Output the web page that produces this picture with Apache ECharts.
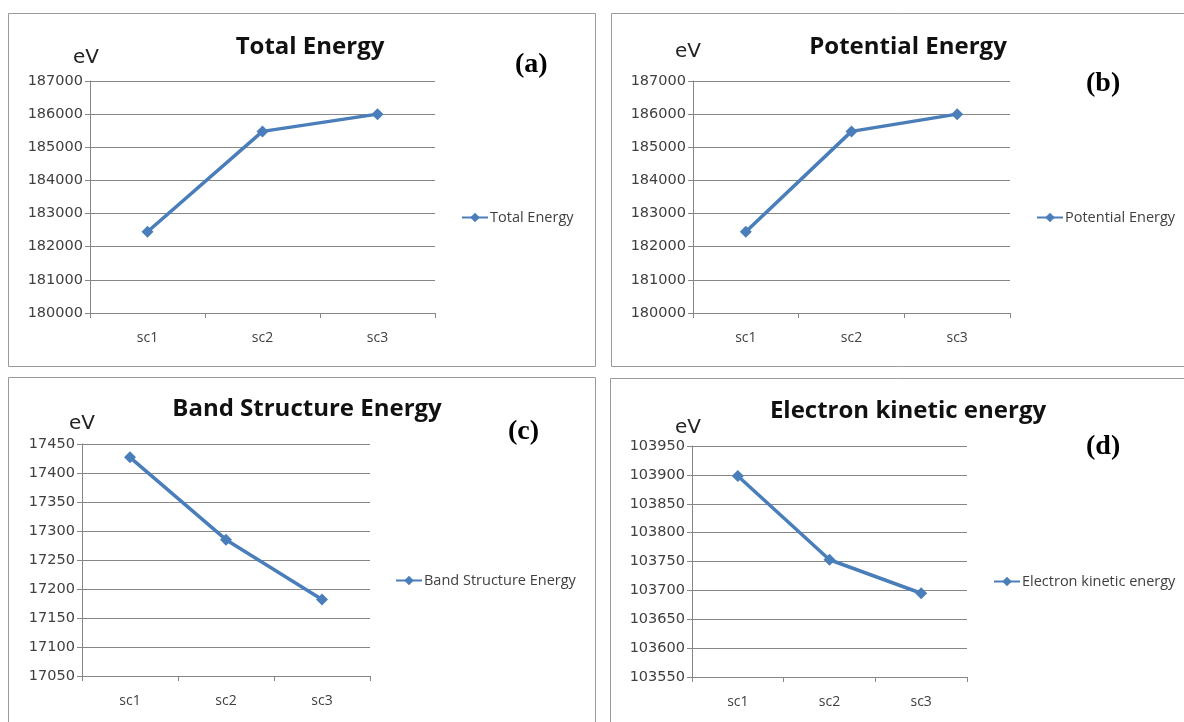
<!DOCTYPE html>
<html>
<head>
<meta charset="utf-8">
<script src="https://cdn.jsdelivr.net/npm/echarts@6/dist/echarts.min.js"></script>
<style>
  html, body { margin: 0; padding: 0; background: #fff; }
  #main { width: 1184px; height: 722px; }
</style>
</head>
<body>
<div id="main"></div>
<script>
// data
var categories = ["sc1", "sc2", "sc3"];
var totalEnergy = [182450, 185480, 186000];
var potentialEnergy = [182450, 185480, 186000];
var bandStructureEnergy = [17427, 17285, 17182];
var electronKineticEnergy = [103898, 103753, 103695];

var panelTitles = ["Total Energy", "Potential Energy", "Band Structure Energy", "Electron kinetic energy"];
var panelTags = ["(a)", "(b)", "(c)", "(d)"];
var yMin = [180000, 180000, 17050, 103550];
var yMax = [187000, 187000, 17450, 103950];
var yStep = [1000, 1000, 50, 50];

var lineColor = "#4A7EBB";
var gridColor = "#868686";
var labelColor = "#404040";

// panel layout (pixels)
var grids = [
  { left: 90, top: 81, width: 345, height: 232 },
  { left: 693, top: 81, width: 317, height: 232 },
  { left: 82, top: 444, width: 288, height: 232 },
  { left: 692, top: 446, width: 275, height: 231 }
];
var titlePos = [[305, 30], [903, 30], [302, 392], [903, 394]];
var legendPos = [[456, 205], [1031, 205], [390, 568], [988, 569]];
var unitPos = [[73, 48], [675, 42], [69, 414], [675, 418]];
var tagPos = [[515, 51], [1086, 70], [508, 418], [1086, 433]];
var seriesData = [totalEnergy, potentialEnergy, bandStructureEnergy, electronKineticEnergy];

var chart = echarts.init(document.getElementById("main"));

var xAxes = [], yAxes = [], series = [], titles = [], legends = [], graphics = [];

// panel borders
var borders = [[8, 13, 587, 353], [611, 13, 580, 353], [8, 377, 587, 350], [610, 378, 580, 350]];
borders.forEach(function (b) {
  graphics.push({
    type: "rect",
    shape: { x: b[0] + 0.5, y: b[1] + 0.5, width: b[2], height: b[3] },
    style: { fill: null, stroke: "#9a9a9a", lineWidth: 1 },
    silent: true
  });
});

for (var i = 0; i < 4; i++) {
  xAxes.push({
    type: "category",
    gridIndex: i,
    data: categories,
    axisLine: { lineStyle: { color: gridColor } },
    axisTick: { show: true, length: 5, lineStyle: { color: gridColor } },
    axisLabel: { color: labelColor, fontFamily: "Open Sans", fontSize: 14, margin: 18 }
  });
  yAxes.push({
    type: "value",
    gridIndex: i,
    min: yMin[i],
    max: yMax[i],
    interval: yStep[i],
    axisLine: { show: true, lineStyle: { color: gridColor } },
    axisTick: { show: true, length: 5, lineStyle: { color: gridColor } },
    axisLabel: {
      color: labelColor, fontFamily: "DejaVu Sans", fontSize: 14.5, margin: 7,
      formatter: function (v) { return String(v); }
    },
    splitLine: { lineStyle: { color: gridColor, width: 1 } }
  });
  series.push({
    name: panelTitles[i],
    type: "line",
    xAxisIndex: i,
    yAxisIndex: i,
    data: seriesData[i],
    symbol: "diamond",
    symbolSize: 12,
    lineStyle: { color: lineColor, width: 3.5 },
    itemStyle: { color: lineColor },
    animation: false
  });
  titles.push({
    text: panelTitles[i],
    left: titlePos[i][0],
    top: titlePos[i][1],
    textAlign: "center",
    textStyle: { fontFamily: "Open Sans", fontWeight: "bold", fontSize: 24, color: "#111" }
  });
  legends.push({
    data: [panelTitles[i]],
    left: legendPos[i][0],
    top: legendPos[i][1],
    itemWidth: 26,
    itemHeight: 12,
    textStyle: { fontFamily: "Open Sans", fontSize: 14.5, color: labelColor, padding: [0, 0, 0, -3] }
  });
  graphics.push({
    type: "text",
    left: unitPos[i][0],
    top: unitPos[i][1],
    style: { text: "eV", font: "20px 'DejaVu Sans'", fill: "#222" }
  });
  graphics.push({
    type: "text",
    left: tagPos[i][0],
    top: tagPos[i][1],
    style: { text: panelTags[i], font: "bold 28px 'Liberation Serif'", fill: "#000" }
  });
}

chart.setOption({
  backgroundColor: "#fff",
  animation: false,
  title: titles,
  legend: legends,
  grid: grids,
  xAxis: xAxes,
  yAxis: yAxes,
  series: series,
  graphic: graphics
});
</script>
</body>
</html>
